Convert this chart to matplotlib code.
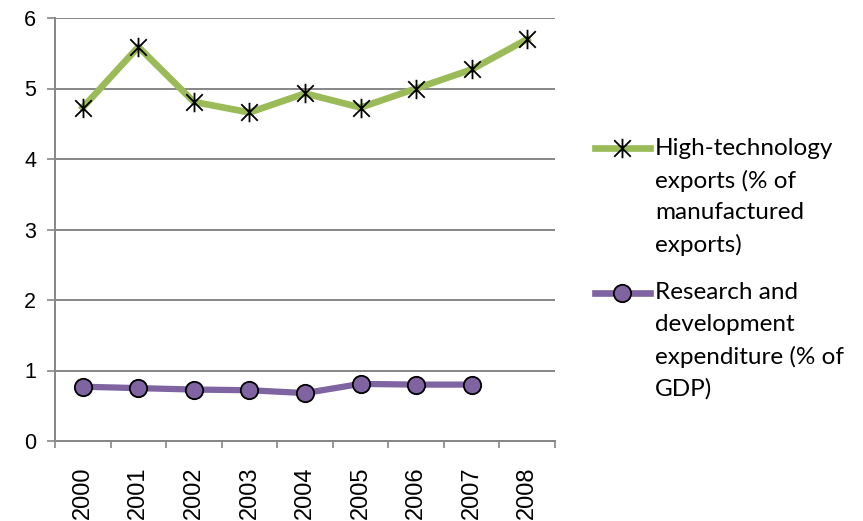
import matplotlib.pyplot as plt
from matplotlib.lines import Line2D
from matplotlib.path import Path

years = ["2000", "2001", "2002", "2003", "2004", "2005", "2006", "2007", "2008"]
hightech = [4.73, 5.59, 4.81, 4.66, 4.93, 4.73, 5.00, 5.27, 5.70]
rnd = [0.77, 0.75, 0.73, 0.72, 0.68, 0.81, 0.80, 0.80]

label_ht = "High-technology\nexports (% of\nmanufactured\nexports)"
label_rd = "Research and\ndevelopment\nexpenditure (% of\nGDP)"

green = "#9bbb59"
purple = "#8064a2"
gridc = "#868686"

# asterisk: vertical bar plus an X
star = Path(
    [(0, -1), (0, 1), (-0.85, -0.85), (0.85, 0.85), (-0.85, 0.85), (0.85, -0.85)],
    [Path.MOVETO, Path.LINETO, Path.MOVETO, Path.LINETO, Path.MOVETO, Path.LINETO],
)

W, H = 863, 521
fig = plt.figure(figsize=(W / 100, H / 100), dpi=100)
ax = fig.add_axes([55 / W, 1 - 441 / H, 500 / W, 423 / H])

ax.plot(range(len(hightech)), hightech, color=green, lw=4.8, marker=star,
        markersize=14, markeredgecolor="black", markeredgewidth=1.3, zorder=3)
ax.plot(range(len(rnd)), rnd, color=purple, lw=4.5, marker="o", markersize=12.5,
        markerfacecolor=purple, markeredgecolor="black", markeredgewidth=1.3, zorder=3)

ax.set_xlim(-0.5, len(years) - 0.5)
ax.set_ylim(0, 6)
ax.set_yticks(range(0, 7))
ax.grid(axis="y", color=gridc, lw=1.4)
ax.set_axisbelow(True)

# ticks between categories, labels centred on them
ax.set_xticks([i - 0.5 for i in range(len(years) + 1)])
ax.set_xticklabels([])
ax.set_xticks(range(len(years)), minor=True)
ax.set_xticklabels(years, minor=True, rotation=90, fontsize=17, family="Liberation Sans")
ax.tick_params(axis="x", which="major", length=5, width=1.2, color=gridc)
ax.tick_params(axis="x", which="minor", length=0, pad=18.5)
ax.tick_params(axis="y", length=5.5, width=1.2, color=gridc, labelsize=15.5, pad=8)
for lab in ax.get_yticklabels():
    lab.set_family("Liberation Sans")

for s in ["top", "right"]:
    ax.spines[s].set_visible(False)
for s in ["left", "bottom"]:
    ax.spines[s].set_color(gridc)
    ax.spines[s].set_linewidth(1.4)

# legend on the right, handle level with the first line of each label
def legend_entry(y_first, y_mid, text, color, **mk):
    ln = Line2D([595 / W, 650 / W], [1 - y_first / H] * 2, transform=fig.transFigure,
                color=color, lw=4.8)
    fig.add_artist(ln)
    pt = Line2D([622 / W], [1 - y_first / H], transform=fig.transFigure,
                color=color, lw=0, markeredgecolor="black", markeredgewidth=1.3, **mk)
    fig.add_artist(pt)
    fig.text(655 / W, 1 - y_mid / H, text, fontsize=17.5, family="Lato",
             va="center", ha="left", linespacing=1.6)

legend_entry(148, 197, label_ht, green, marker=star, markersize=14)
legend_entry(293, 341, label_rd, purple, marker="o", markersize=12.5, markerfacecolor=purple)

fig.savefig("out.png", dpi=100)
